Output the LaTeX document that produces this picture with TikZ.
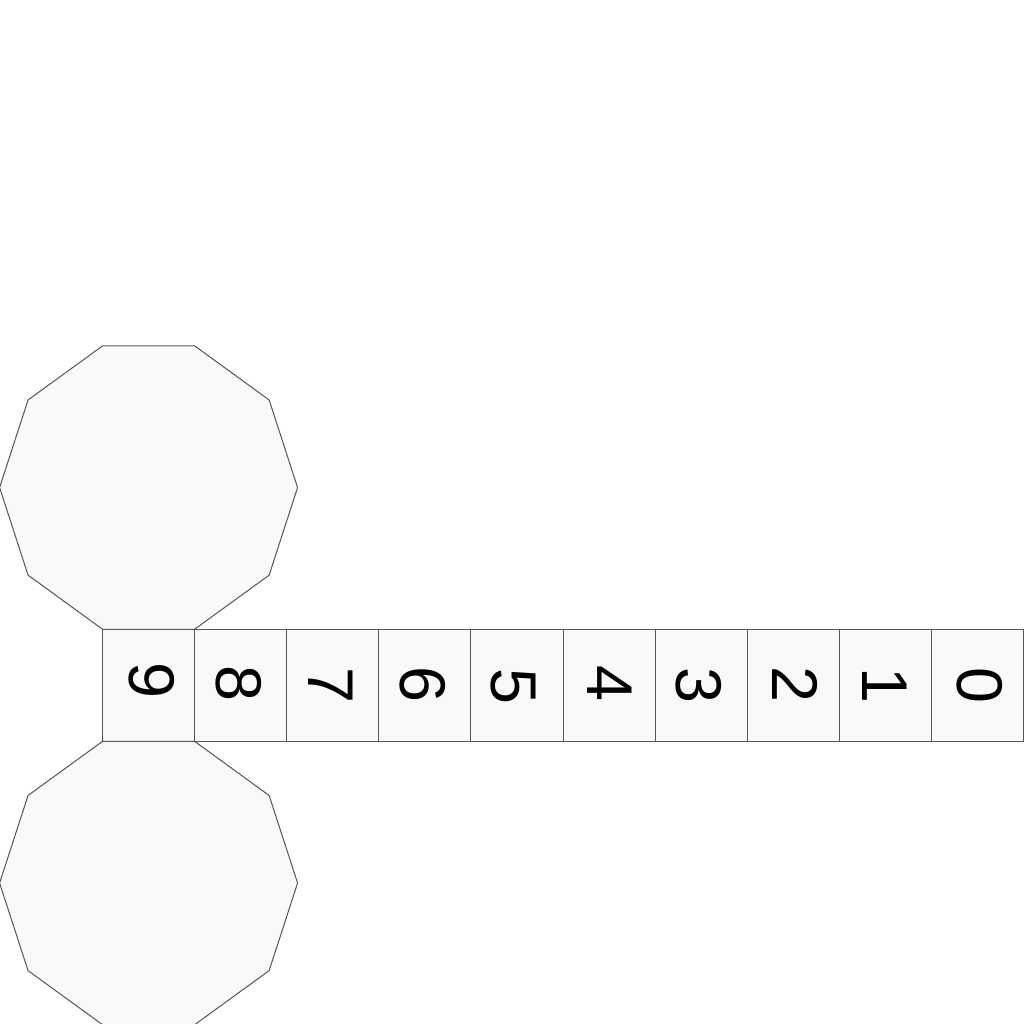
\documentclass[tikz,border=0pt]{standalone}
\usepackage{fontspec}
\setmainfont{Liberation Sans}
\usetikzlibrary{positioning,shapes.geometric}

\definecolor{facefill}{HTML}{F9F9F9}
\definecolor{edgeline}{HTML}{555555}

\begin{document}
\begin{tikzpicture}[
    cell/.style={draw=edgeline, fill=facefill, line width=0.1mm, minimum width=0.921cm, minimum height=1.12cm, inner sep=0pt, outer sep=0pt},
    digit/.style={font=\fontsize{18.4}{18.4}\selectfont, rotate=-90, inner sep=0pt},
    deca/.style={draw=edgeline, fill=facefill, line width=0.1mm, regular polygon, regular polygon sides=10, minimum size=2.98cm, inner sep=0pt, outer sep=0pt}
]
\useasboundingbox (0,0) rectangle (10.24,10.24);
\node[cell] (c0) at (9.775,3.387) {};
\foreach \i [remember=\i as \j (initially 0)] in {1,...,9} {
    \node[cell, left=0pt of c\j] (c\i) {};
}
\node[deca, above=0pt of c9] (top) {};
\node[deca, below=0pt of c9] (bottom) {};
% digits sit a little off the cell centres
\foreach \i/\dx/\dy in {0/1.9/0.3, 1/-0.9/-0.2, 2/1.6/1, 3/-2.3/0.3, 4/0.5/1.5, 5/-3.1/-1.3, 6/-2.1/0.8, 7/-2/-0.2, 8/-1.8/1.7, 9/2.8/4.7} {
    \node[digit] (d\i) at ([shift={(\dx*0.01,\dy*0.01)}]c\i) {\i};
}
\end{tikzpicture}
\end{document}
